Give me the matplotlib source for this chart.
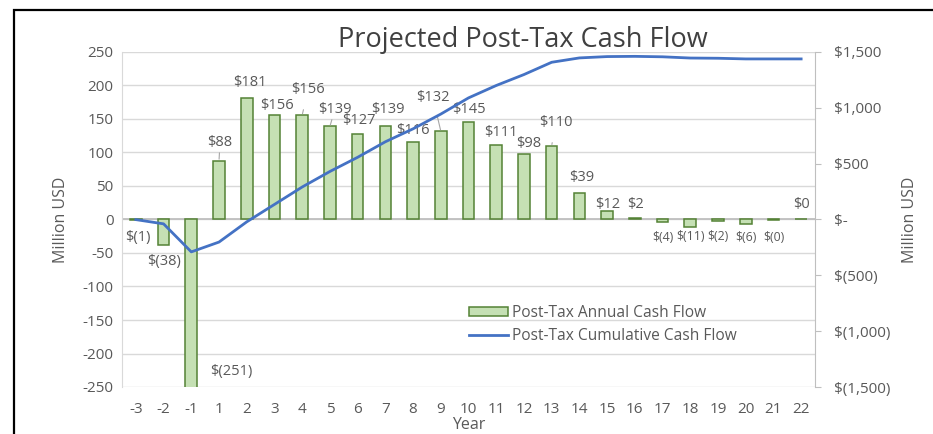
import matplotlib
matplotlib.use("Agg")
import matplotlib.pyplot as plt
from matplotlib.patches import Rectangle, Patch
from matplotlib.lines import Line2D

# ---------- data ----------------------------------------------------------
years = [-3, -2, -1, 1, 2, 3, 4, 5, 6, 7, 8, 9, 10,
         11, 12, 13, 14, 15, 16, 17, 18, 19, 20, 21, 22]
annual = [-1, -38, -251, 88, 181, 156, 156, 139, 127, 139, 116, 132, 145,
          111, 98, 110, 39, 12, 2, -4, -11, -2, -6, -0.3, 0.2]
cumulative = [-1, -39, -290, -202, -21, 135, 291, 430, 557, 696, 812, 944, 1089,
              1200, 1298, 1408, 1447, 1459, 1461, 1457, 1446, 1444, 1438, 1438, 1438]
labels = ["$(1)", "$(38)", "$(251)", "$88", "$181", "$156", "$156", "$139", "$127",
          "$139", "$116", "$132", "$145", "$111", "$98", "$110", "$39", "$12", "$2",
          "$(4)", "$(11)", "$(2)", "$(6)", "$(0)", "$0"]
left_ticks = [-250, -200, -150, -100, -50, 0, 50, 100, 150, 200, 250]
right_ticks = [-1500, -1000, -500, 0, 500, 1000, 1500]
right_labels = ["$(1,500)", "$(1,000)", "$(500)", "$-", "$500", "$1,000", "$1,500"]

# label nudges in pixels (dx, dy from bar end), leader line on/off
nudges = [(2, -17), (0, -17), (40, 16), (1, 18), (3, 16), (2, 9), (6, 25), (5, 17),
          (1, 14), (3, 17), (0, 11), (-8, 34), (0, 13), (5, 13), (5, 10), (4, 23),
          (2, 16), (1, 7), (1, 14), (0, -15), (0, -10), (0, -16), (0, -13.5),
          (0, -17.5), (0, 14.5)]
leaders = {3, 6, 7, 11, 15}
crowded = {19, 20, 21, 22, 23}

GRAY = "#595959"
plt.rcParams["font.family"] = ["Open Sans", "DejaVu Sans"]

W, H = 933, 434
fig = plt.figure(figsize=(W / 100, H / 100), dpi=100)
PX = 72 / 100  # points per pixel

ax = fig.add_axes([122 / W, 1 - 387 / H, (815 - 122) / W, (387 - 52) / H])
x = list(range(len(years)))

ax.bar(x, annual, width=0.42, color="#c5e0b4", edgecolor="#548235", linewidth=1.1,
       zorder=3)
ax.set_xlim(-0.5, len(years) - 0.5)
ax.set_ylim(-250, 250)
ax.set_yticks(left_ticks)
ax.set_yticklabels([str(t) for t in left_ticks])
ax.set_xticks(x)
ax.set_xticklabels([str(y) for y in years])
ax.grid(axis="y", color="#d9d9d9", linewidth=1.0, zorder=0)
ax.axhline(0, color="#bfbfbf", linewidth=1.3, zorder=2)
for s in ["top", "right", "bottom"]:
    ax.spines[s].set_visible(False)
ax.spines["left"].set_color("#d9d9d9")
ax.tick_params(axis="both", length=0, labelsize=11, colors=GRAY, pad=6)
ax.tick_params(axis="x", pad=11)
ax.set_ylabel("Million USD", fontsize=11.5, color=GRAY, labelpad=10)
ax.set_xlabel("Year", fontsize=11.5, color=GRAY, labelpad=0)

for i, (v, lab) in enumerate(zip(annual, labels)):
    dx, dy = nudges[i]
    kw = {}
    if i in leaders:
        kw["arrowprops"] = dict(arrowstyle="-", color="#a6a6a6", lw=0.8,
                                shrinkA=7, shrinkB=1)
    ax.annotate(lab, xy=(i, v), xytext=(dx * PX, dy * PX), textcoords="offset points",
                ha="center", va="center", fontsize=8.8 if i in crowded else 10.5,
                color=GRAY, zorder=5, annotation_clip=False, **kw)

ax2 = ax.twinx()
ax2.plot(x, cumulative, color="#4472c4", linewidth=2.0, zorder=4)
ax2.set_ylim(-1500, 1500)
ax2.set_yticks(right_ticks)
ax2.set_yticklabels(right_labels)
for s in ["top", "left", "bottom"]:
    ax2.spines[s].set_visible(False)
ax2.spines["right"].set_color("#bfbfbf")
ax2.tick_params(axis="y", length=4, color="#bfbfbf", labelsize=11, colors=GRAY, pad=10)
ax2.set_ylabel("Million USD", fontsize=11.5, color=GRAY, labelpad=8)

handles = [Patch(facecolor="#c5e0b4", edgecolor="#548235", linewidth=1.1),
           Line2D([0], [0], color="#4472c4", linewidth=2.0)]
leg = ax.legend(handles, ["Post-Tax Annual Cash Flow", "Post-Tax Cumulative Cash Flow"],
                loc="upper left", bbox_to_anchor=((461 - 122) / 693, (387 - 297) / 335),
                frameon=False, fontsize=11.2, handlelength=2.5, handleheight=0.5,
                handletextpad=0.3, labelspacing=0.45, borderpad=0)
for t in leg.get_texts():
    t.set_color(GRAY)

fig.text(523 / W, 1 - 40 / H, "Projected Post-Tax Cash Flow", ha="center", va="center",
         fontsize=19.5, color="#404040")

fig.add_artist(Rectangle((14 / W, -0.1), 1.2, 1 - 10 / H + 0.1, transform=fig.transFigure,
                         fill=False, edgecolor="black", linewidth=1.6))

fig.savefig("out.png", dpi=100)
